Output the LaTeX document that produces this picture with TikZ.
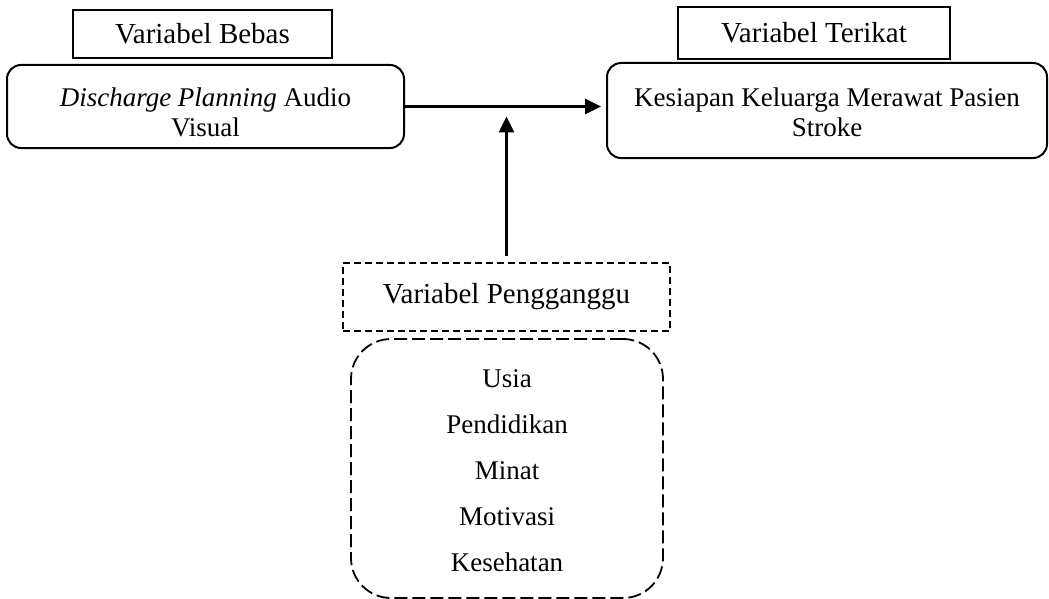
\documentclass[tikz,border=0pt]{standalone}
\usepackage{fontspec}
\setmainfont{Liberation Serif}
\usetikzlibrary{arrows.meta}
\tikzset{
  labelbox/.style={draw, line width=1pt, rectangle, inner sep=0pt, font=\fontsize{14.5}{17}\selectfont},
  varbox/.style={draw, line width=1pt, rounded corners=7pt, inner sep=0pt, align=center, font=\fontsize{13.5}{15}\selectfont},
  dashlabel/.style={draw, line width=0.9pt, dash pattern=on 3.5pt off 2pt, inner sep=0pt, font=\fontsize{14.5}{17}\selectfont},
  listbox/.style={draw, line width=0.9pt, dash pattern=on 6.5pt off 2.5pt, rounded corners=20pt, inner sep=0pt, align=center, font=\fontsize{13.5}{23}\selectfont},
  conn/.style={line width=1.3pt, -{Triangle[length=8pt,width=7.5pt]}}
}
\begin{document}
\begin{tikzpicture}[x=0.5pt,y=-0.5pt]
\useasboundingbox (0,0) rectangle (1049,599);
\node[labelbox, minimum width=129.5pt, minimum height=24pt] (bebas) at (202.5,34) {Variabel Bebas};
\node[varbox, minimum width=198.5pt, minimum height=41.5pt] (dp) at (205.5,106.5) {\rule{0pt}{15.3pt}\textit{Discharge Planning} Audio\\Visual};
\node[labelbox, minimum width=136pt, minimum height=26pt] (terikat) at (814,33) {Variabel Terikat};
\node[varbox, minimum width=220pt, minimum height=47.5pt] (kes) at (827,110.5) {\rule{0pt}{11pt}Kesiapan Keluarga Merawat Pasien\\Stroke};
\node[dashlabel, minimum width=163.5pt, minimum height=34pt] (peng) at (506.5,297) {Variabel Pengganggu};
\node[listbox, minimum width=156pt, minimum height=129.5pt] (list) at (507,468.5) {\rule{0pt}{11.5pt}Usia\\Pendidikan\\Minat\\Motivasi\\Kesehatan};
\coordinate (meet) at (506.5,106.5);
\draw[conn, shorten >=2.5pt] (dp.east) -- (dp.east -| kes.west);
\draw[conn, shorten <=3pt, shorten >=5pt] (peng.north) -- (meet);
\end{tikzpicture}
\end{document}
